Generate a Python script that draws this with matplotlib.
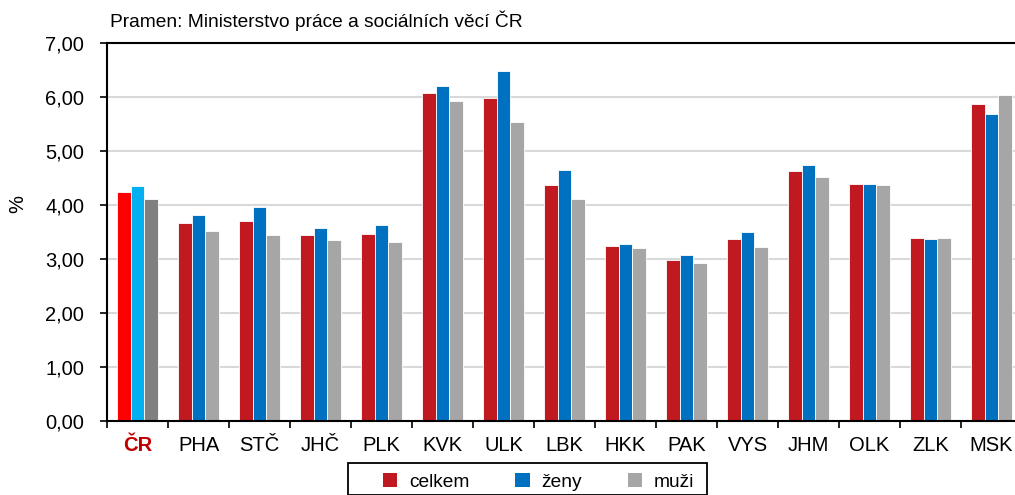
import matplotlib
matplotlib.use("Agg")
import matplotlib.pyplot as plt
import numpy as np
from matplotlib.patches import Patch, Rectangle

plt.rcParams['font.family'] = ['Liberation Sans', 'DejaVu Sans']

categories = ["ČR", "PHA", "STČ", "JHČ", "PLK", "KVK", "ULK", "LBK", "HKK", "PAK", "VYS", "JHM", "OLK", "ZLK", "MSK"]
celkem = [4.24, 3.67, 3.70, 3.45, 3.47, 6.07, 5.99, 4.37, 3.24, 2.99, 3.37, 4.63, 4.38, 3.38, 5.87]
zeny   = [4.35, 3.82, 3.97, 3.57, 3.63, 6.20, 6.48, 4.64, 3.27, 3.08, 3.50, 4.75, 4.39, 3.37, 5.69]
muzi   = [4.11, 3.52, 3.44, 3.35, 3.32, 5.93, 5.53, 4.11, 3.21, 2.92, 3.23, 4.51, 4.37, 3.38, 6.04]
series_names = ["celkem", "ženy", "muži"]

colors = ["#C0191F", "#0070C0", "#A6A6A6"]
cr_colors = ["#FF0000", "#00B0F0", "#808080"]

W, H = 1015, 495
fig = plt.figure(figsize=(W / 100, H / 100), dpi=100)
ax = fig.add_axes([107 / W, 1 - 421 / H, 915 / W, 378 / H])

x = np.arange(len(categories))
w = 0.22
for i, vals in enumerate([celkem, zeny, muzi]):
    cols = [cr_colors[i]] + [colors[i]] * (len(categories) - 1)
    ax.bar(x + (i - 1) * w, vals, width=w, color=cols, edgecolor="white", linewidth=0.6, zorder=3)

ax.set_xlim(-0.5, len(categories) - 0.5)
ax.set_ylim(0, 7)
yt = np.arange(0, 7.01, 1)
ax.set_yticks(yt)
ax.set_yticklabels([f"{v:.2f}".replace(".", ",") for v in yt], fontsize=14.5)
ax.yaxis.grid(True, color="#D9D9D9", linewidth=1.5, zorder=0)
ax.set_axisbelow(True)

# category boundaries as major ticks (no labels), category names as minor ticks
ax.set_xticks(np.arange(-0.5, len(categories), 1))
ax.set_xticklabels([])
ax.tick_params(axis='x', which='major', length=5, width=1.2, color='black', direction='out')
ax.set_xticks(x, minor=True)
ax.set_xticklabels(categories, minor=True, fontsize=14.5)
ax.tick_params(axis='x', which='minor', length=0, pad=11)
ax.tick_params(axis='y', length=5, width=1.2, direction='out', pad=11.5)
lbl = ax.get_xticklabels(minor=True)[0]
lbl.set_color("#C00000")
lbl.set_fontweight("bold")

for s in ['left', 'bottom', 'top']:
    ax.spines[s].set_linewidth(1.5)
    ax.spines[s].set_color('black')
    ax.spines[s].set_zorder(5)
ax.spines['right'].set_visible(False)

fig.text(18 / W, 1 - 204 / H, "%", fontsize=14.5, rotation=90, ha='center', va='center')
fig.text(110 / W, 1 - 21 / H, "Pramen: Ministerstvo práce a sociálních věcí ČR", fontsize=13.8, va='center', ha='left')

# legend box
fig.patches.append(Rectangle((348 / W, 0 / H), (707 - 348) / W, (H - 463) / H,
                             transform=fig.transFigure, fill=False, edgecolor='black', linewidth=1.3))
handles = [Patch(facecolor=c, edgecolor='none') for c in colors]
leg = fig.legend(handles, series_names, loc='center left', bbox_to_anchor=(383 / W, 1 - 482 / H),
                 ncol=3, frameon=False, fontsize=13.8, handlelength=0.75, handleheight=0.75,
                 columnspacing=2.4, handletextpad=0.6, borderpad=0.0, borderaxespad=0.0)

fig.savefig("out.png", dpi=100)
